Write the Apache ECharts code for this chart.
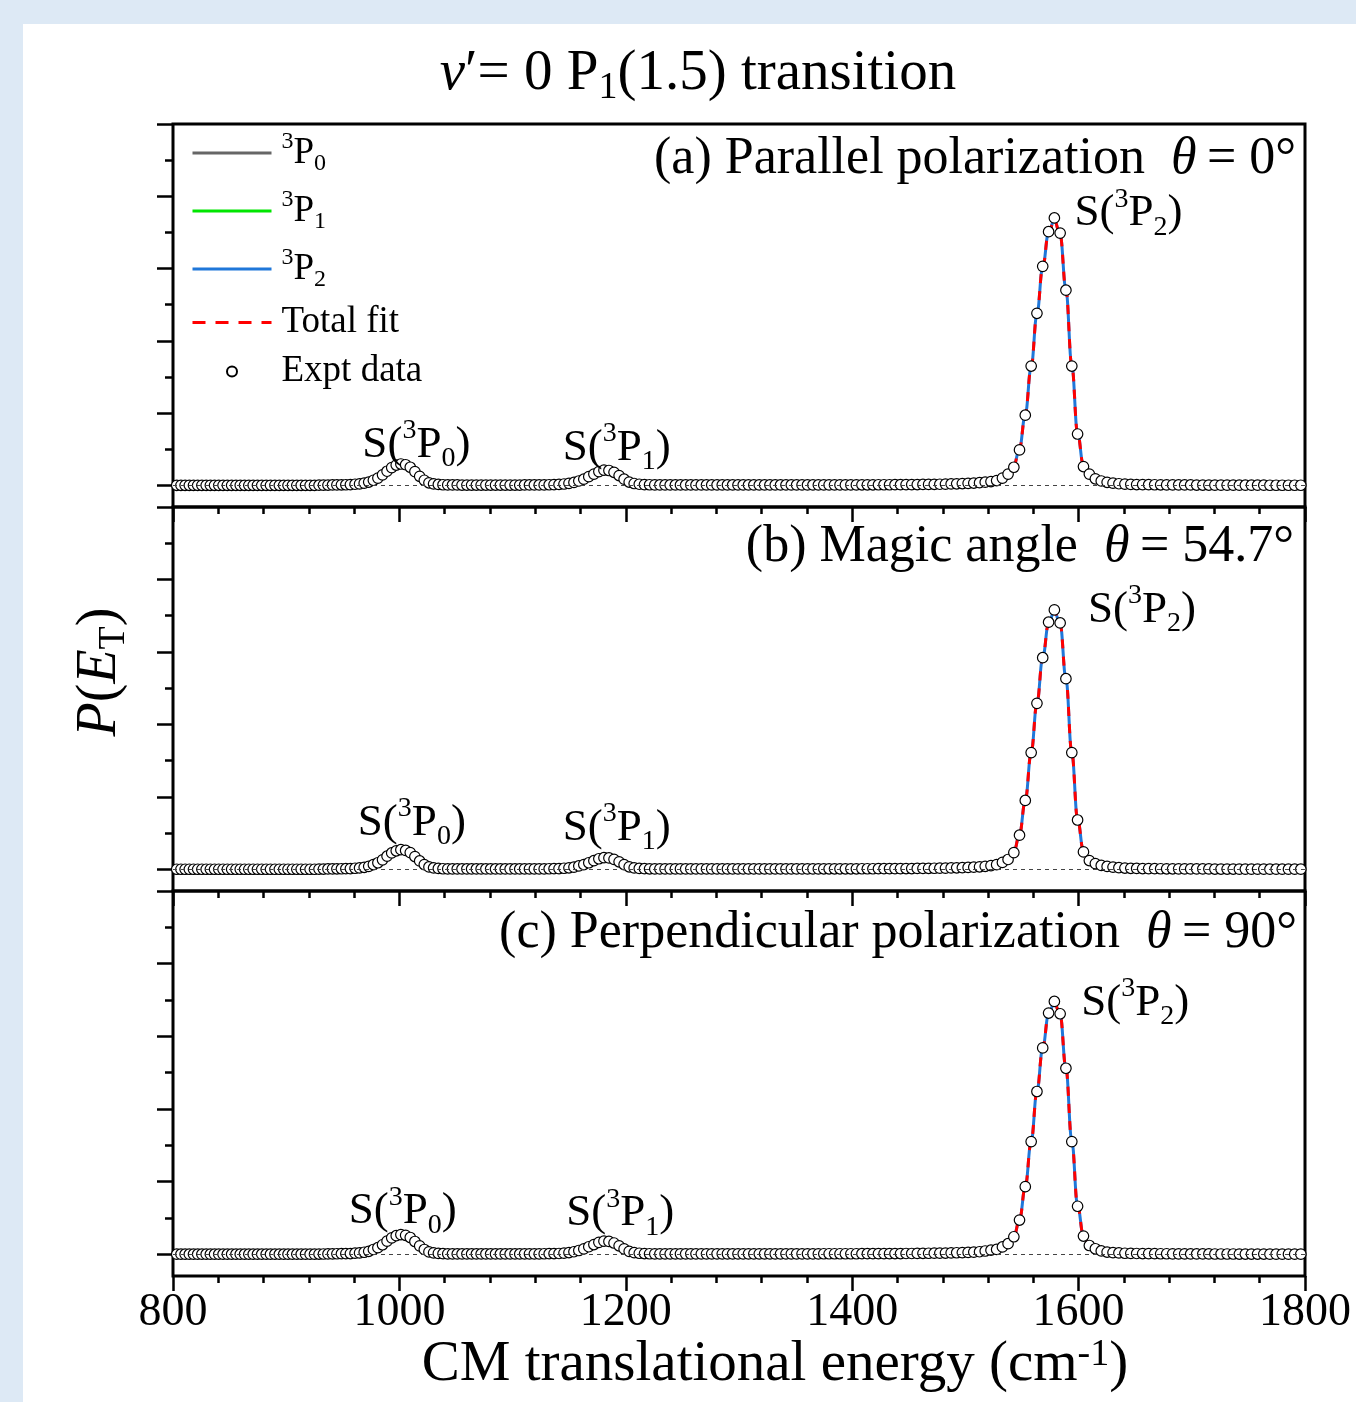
<!DOCTYPE html>
<html>
<head>
<meta charset="utf-8">
<title>P(ET) v'=0 P1(1.5) transition</title>
<script src="https://cdn.jsdelivr.net/npm/echarts@6/dist/echarts.min.js"></script>
<style>
  html, body { margin: 0; padding: 0; background: #dde9f5; }
  #sheet { position: absolute; left: 23px; top: 24px; width: 1333px; height: 1378px; background: #fff; }
  #main { position: absolute; left: 0; top: 0; width: 1356px; height: 1402px; }
</style>
</head>
<body>
<div id="sheet"></div>
<div id="main"></div>
<script>
// CM translational energy of the measured points (cm-1)
var energy = [
  803.3,807.0,810.7,814.4,818.1,821.8,825.5,829.3,833.0,836.7,
  840.4,844.2,848.0,851.8,855.6,859.4,863.2,867.0,870.8,874.6,
  878.4,882.3,886.1,890.0,893.9,897.8,901.6,905.5,909.4,913.2,
  917.1,921.1,925.0,929.0,932.9,936.9,940.9,944.8,948.8,952.7,
  956.7,960.8,964.8,968.9,972.9,977.0,981.0,985.1,989.1,993.2,
  997.2,1001.3,1005.5,1009.6,1013.7,1017.9,1022.0,1026.1,1030.2,1034.4,
  1038.5,1042.7,1046.9,1051.1,1055.3,1059.6,1063.8,1068.0,1072.2,1076.4,
  1080.6,1084.9,1089.2,1093.5,1097.8,1102.1,1106.3,1110.6,1114.9,1119.2,
  1123.5,1127.9,1132.3,1136.6,1141.0,1145.4,1149.8,1154.2,1158.5,1162.9,
  1167.3,1171.8,1176.2,1180.7,1185.1,1189.6,1194.1,1198.5,1203.0,1207.4,
  1211.9,1216.5,1221.0,1225.6,1230.1,1234.7,1239.2,1243.8,1248.3,1252.9,
  1257.4,1262.0,1266.7,1271.3,1275.9,1280.6,1285.2,1289.8,1294.4,1299.1,
  1303.7,1308.4,1313.1,1317.9,1322.6,1327.3,1332.0,1336.7,1341.5,1346.2,
  1350.9,1355.7,1360.5,1365.3,1370.1,1374.9,1379.6,1384.4,1389.2,1394.0,
  1398.8,1403.7,1408.6,1413.4,1418.3,1423.2,1428.1,1433.0,1437.8,1442.7,
  1447.6,1452.6,1457.5,1462.5,1467.5,1472.5,1477.4,1482.4,1487.4,1492.3,
  1497.3,1502.4,1507.4,1512.5,1517.5,1522.6,1527.6,1532.7,1537.7,1542.8,
  1547.8,1552.9,1558.1,1563.2,1568.3,1573.5,1578.6,1583.7,1588.8,1594.0,
  1599.1,1604.3,1609.5,1614.8,1620.0,1625.2,1630.4,1635.6,1640.9,1646.1,
  1651.3,1656.6,1661.9,1667.2,1672.5,1677.8,1683.1,1688.4,1693.7,1699.0,
  1704.3,1709.7,1715.1,1720.4,1725.8,1731.2,1736.6,1742.0,1747.3,1752.7,
  1758.1,1763.6,1769.0,1774.5,1779.9,1785.4,1790.9,1796.3
];

// (a) parallel polarization, theta = 0
var exptA = [
  0,0,0,0,0,0,0,0,0,0,
  0,0,0,0,0,0,0,0,0,0,
  0,0,0,0,0,0,0,0,0,0,
  0,0,0,0.002,0.003,0.004,0.005,0.006,0.007,0.008,
  0.01,0.015,0.02,0.03,0.045,0.07,0.10,0.145,0.195,0.245,
  0.28,0.295,0.285,0.25,0.19,0.125,0.07,0.035,0.02,0.012,
  0.008,0.006,0.005,0.005,0.004,0.004,0.004,0.004,0.004,0.004,
  0.004,0.004,0.004,0.004,0.004,0.004,0.004,0.005,0.005,0.005,
  0.005,0.006,0.008,0.01,0.012,0.018,0.027,0.04,0.06,0.085,
  0.12,0.155,0.19,0.21,0.205,0.18,0.135,0.085,0.045,0.025,
  0.015,0.01,0.008,0.006,0.005,0.005,0.005,0.005,0.005,0.005,
  0.005,0.005,0.005,0.005,0.005,0.005,0.005,0.005,0.005,0.005,
  0.005,0.005,0.005,0.005,0.005,0.005,0.005,0.005,0.005,0.005,
  0.005,0.005,0.005,0.005,0.005,0.006,0.006,0.006,0.006,0.006,
  0.006,0.006,0.007,0.007,0.007,0.008,0.008,0.008,0.009,0.009,
  0.01,0.01,0.011,0.012,0.013,0.014,0.015,0.017,0.019,0.021,
  0.024,0.027,0.031,0.036,0.043,0.052,0.066,0.10,0.155,0.25,
  0.49,0.97,1.65,2.38,3.03,3.51,3.70,3.49,2.70,1.65,
  0.71,0.26,0.155,0.09,0.06,0.042,0.03,0.022,0.017,0.013,
  0.011,0.01,0.009,0.008,0.007,0.006,0.006,0.005,0.005,0.005,
  0.004,0.004,0.004,0.003,0.003,0.003,0.003,0.002,0.002,0.002,
  0.002,0.002,0.001,0.001,0.001,0.001,0.001,0.001
];

// (b) magic angle, theta = 54.7
var exptB = [
  0,0,0,0,0,0,0,0,0,0,
  0,0,0,0,0,0,0,0,0,0,
  0,0,0,0,0,0,0,0,0,0,
  0,0,0,0.002,0.003,0.004,0.005,0.006,0.007,0.008,
  0.009,0.014,0.018,0.027,0.04,0.065,0.09,0.13,0.18,0.225,
  0.255,0.27,0.26,0.23,0.175,0.115,0.065,0.032,0.018,0.011,
  0.007,0.005,0.005,0.004,0.004,0.004,0.004,0.004,0.004,0.004,
  0.004,0.004,0.004,0.004,0.004,0.004,0.004,0.005,0.005,0.005,
  0.005,0.005,0.007,0.008,0.009,0.014,0.02,0.03,0.046,0.065,
  0.09,0.118,0.145,0.16,0.156,0.137,0.103,0.065,0.034,0.019,
  0.011,0.008,0.006,0.005,0.005,0.005,0.005,0.005,0.005,0.005,
  0.005,0.005,0.005,0.005,0.005,0.005,0.005,0.005,0.005,0.005,
  0.005,0.005,0.005,0.005,0.005,0.005,0.005,0.005,0.005,0.005,
  0.005,0.005,0.005,0.005,0.005,0.006,0.006,0.006,0.006,0.006,
  0.006,0.006,0.007,0.007,0.007,0.008,0.008,0.008,0.009,0.009,
  0.01,0.01,0.011,0.012,0.013,0.014,0.015,0.016,0.018,0.02,
  0.022,0.025,0.029,0.034,0.041,0.05,0.064,0.095,0.135,0.23,
  0.47,0.95,1.61,2.29,2.92,3.41,3.58,3.40,2.63,1.61,
  0.68,0.24,0.12,0.078,0.053,0.039,0.03,0.022,0.017,0.013,
  0.011,0.01,0.009,0.008,0.007,0.006,0.006,0.005,0.005,0.005,
  0.004,0.004,0.004,0.003,0.003,0.003,0.003,0.002,0.002,0.002,
  0.002,0.002,0.001,0.001,0.001,0.001,0.001,0.001
];

// (c) perpendicular polarization, theta = 90
var exptC = [
  0,0,0,0,0,0,0,0,0,0,
  0,0,0,0,0,0,0,0,0,0,
  0,0,0,0,0,0,0,0,0,0,
  0,0,0,0.002,0.003,0.004,0.005,0.006,0.007,0.008,
  0.009,0.014,0.018,0.027,0.04,0.065,0.09,0.13,0.18,0.225,
  0.255,0.27,0.26,0.23,0.175,0.115,0.065,0.032,0.018,0.011,
  0.007,0.005,0.005,0.004,0.004,0.004,0.004,0.004,0.004,0.004,
  0.004,0.004,0.004,0.004,0.004,0.004,0.004,0.005,0.005,0.005,
  0.005,0.006,0.007,0.009,0.01,0.015,0.023,0.034,0.051,0.073,
  0.103,0.133,0.163,0.18,0.176,0.154,0.116,0.073,0.039,0.021,
  0.013,0.009,0.006,0.005,0.005,0.005,0.005,0.005,0.005,0.005,
  0.005,0.005,0.005,0.005,0.005,0.005,0.005,0.005,0.005,0.005,
  0.005,0.005,0.005,0.005,0.005,0.005,0.005,0.005,0.005,0.005,
  0.005,0.005,0.005,0.005,0.005,0.006,0.006,0.006,0.006,0.006,
  0.006,0.006,0.007,0.007,0.007,0.008,0.008,0.008,0.009,0.009,
  0.01,0.01,0.011,0.012,0.013,0.014,0.015,0.016,0.018,0.02,
  0.022,0.025,0.029,0.034,0.044,0.055,0.066,0.10,0.145,0.24,
  0.47,0.93,1.55,2.24,2.84,3.32,3.48,3.31,2.56,1.55,
  0.66,0.25,0.12,0.075,0.045,0.03,0.022,0.017,0.013,0.011,
  0.01,0.009,0.008,0.007,0.006,0.006,0.005,0.005,0.005,0.004,
  0.004,0.004,0.004,0.003,0.003,0.003,0.003,0.002,0.002,0.002,
  0.002,0.002,0.001,0.001,0.001,0.001,0.001,0.001
];

// fitted components (energies where each component is drawn)
var fitE0 = [948.8,952.7,956.7,960.8,964.8,968.9,972.9,977.0,981.0,985.1,989.1,993.2,997.2,1001.3,1005.5,1009.6,1013.7,1017.9,1022.0,1026.1,1030.2,1034.4,1038.5,1042.7,1046.9];
var fitE1 = [1123.5,1127.9,1132.3,1136.6,1141.0,1145.4,1149.8,1154.2,1158.5,1162.9,1167.3,1171.8,1176.2,1180.7,1185.1,1189.6,1194.1,1198.5,1203.0,1207.4,1211.9,1216.5,1221.0,1225.6,1230.1];
var fitE2 = [1497.3,1502.4,1507.4,1512.5,1517.5,1522.6,1527.6,1532.7,1537.7,1542.8,1547.8,1552.9,1558.1,1563.2,1568.3,1573.5,1578.6,1583.7,1588.8,1594.0,1599.1,1604.3,1609.5,1614.8,1620.0,1625.2,1630.4,1635.6,1640.9,1646.1,1651.3];

var fit0A = [0.004,0.006,0.009,0.013,0.019,0.028,0.043,0.067,0.098,0.142,0.192,0.24,0.276,0.29,0.28,0.246,0.188,0.124,0.07,0.036,0.018,0.01,0.006,0.004,0.003];
var fit0B = [0.004,0.005,0.008,0.012,0.017,0.026,0.039,0.061,0.09,0.13,0.176,0.22,0.253,0.266,0.256,0.225,0.172,0.113,0.064,0.033,0.016,0.009,0.005,0.004,0.003];
var fit0C = [0.004,0.005,0.008,0.012,0.017,0.026,0.039,0.061,0.09,0.13,0.176,0.22,0.253,0.266,0.256,0.225,0.172,0.113,0.064,0.033,0.016,0.009,0.005,0.004,0.003];

var fit1A = [0.003,0.004,0.006,0.008,0.011,0.017,0.026,0.039,0.058,0.083,0.117,0.152,0.186,0.206,0.202,0.177,0.133,0.084,0.044,0.022,0.012,0.007,0.004,0.003,0.002];
var fit1B = [0.002,0.003,0.005,0.006,0.008,0.013,0.02,0.03,0.044,0.063,0.089,0.116,0.141,0.157,0.154,0.135,0.101,0.064,0.033,0.017,0.009,0.005,0.003,0.002,0.002];
var fit1C = [0.003,0.003,0.005,0.007,0.009,0.015,0.022,0.033,0.05,0.071,0.1,0.13,0.159,0.177,0.173,0.152,0.114,0.072,0.038,0.019,0.01,0.006,0.003,0.003,0.002];

var fit2A = [0.015,0.018,0.022,0.028,0.036,0.048,0.068,0.10,0.16,0.27,0.51,0.98,1.64,2.37,3.02,3.50,3.67,3.47,2.71,1.66,0.72,0.27,0.13,0.075,0.048,0.032,0.022,0.016,0.012,0.009,0.007];
var fit2B = [0.014,0.017,0.021,0.026,0.034,0.045,0.064,0.095,0.14,0.24,0.48,0.95,1.61,2.29,2.92,3.40,3.56,3.39,2.63,1.61,0.69,0.25,0.12,0.072,0.046,0.031,0.021,0.015,0.011,0.008,0.006];
var fit2C = [0.014,0.017,0.021,0.026,0.034,0.045,0.064,0.097,0.145,0.245,0.47,0.93,1.55,2.24,2.84,3.31,3.46,3.30,2.56,1.56,0.67,0.25,0.12,0.07,0.045,0.03,0.02,0.014,0.01,0.008,0.006];

var majorTicks = [0, 1, 2, 3, 4, 5];
var minorTicks = [0.5, 1.5, 2.5, 3.5, 4.5];
var seriesNames = ['3P0', '3P1', '3P2', 'Total fit', 'Expt data'];
var panelTitles = [
  '(a) Parallel polarization  {i|θ}\u2009= 0°',
  '(b) Magic angle  {i|θ}\u2009= 54.7°',
  '(c) Perpendicular polarization  {i|θ}\u2009= 90°'
];

var FONT = "'Liberation Serif', 'Times New Roman', serif";
var chart = echarts.init(document.getElementById('main'));

function pairs(xs, ys) {
  return xs.map(function (x, i) { return [x, ys[i]]; });
}

var supsub = {
  sup: { fontSize: 28, lineHeight: 28, verticalAlign: 'top', fontFamily: FONT, color: '#000' },
  sub: { fontSize: 28, lineHeight: 28, verticalAlign: 'bottom', fontFamily: FONT, color: '#000' },
  m: { fontSize: 45, lineHeight: 56, fontFamily: FONT, color: '#000' }
};

var peakText = {
  p0: '{m|S(}{sup|3}{m|P}{sub|0}{m|)}',
  p1: '{m|S(}{sup|3}{m|P}{sub|1}{m|)}',
  p2: '{m|S(}{sup|3}{m|P}{sub|2}{m|)}'
};

// where each peak label sits, in data units of its panel
var peakAnchors = [
  [['p0', 1015, 0.56], ['p1', 1192, 0.52], ['p2', 1644, 3.76]],
  [['p0', 1011, 0.64], ['p1', 1192, 0.57], ['p2', 1656, 3.58]],
  [['p0', 1003, 0.59], ['p1', 1195, 0.56], ['p2', 1650, 3.46]]
];

var panels = [
  { expt: exptA, f0: fit0A, f1: fit1A, f2: fit2A, top: 124, height: 383 },
  { expt: exptB, f0: fit0B, f1: fit1B, f2: fit2B, top: 507, height: 384 },
  { expt: exptC, f0: fit0C, f1: fit1C, f2: fit2C, top: 891, height: 385 }
];

var grid = [], xAxis = [], yAxis = [], series = [];

panels.forEach(function (p, i) {
  grid.push({ left: 173, right: 51, top: p.top, height: p.height, show: true,
              borderColor: '#000', borderWidth: 3, backgroundColor: 'transparent' });

  xAxis.push({
    gridIndex: i, type: 'value', position: 'bottom', min: 800, max: 1800, interval: 200,
    axisLine: { show: false, onZero: false },
    splitLine: { show: false },
    axisTick: { show: true, inside: false, length: 15, lineStyle: { color: '#000', width: 2.5 } },
    minorTick: { show: true, splitNumber: 5, length: 7, lineStyle: { color: '#000', width: 2.5 } },
    axisLabel: { show: i === 2, fontFamily: FONT, fontSize: 46, color: '#000', margin: 14,
                 formatter: function (v) { return String(v); } }
  });

  yAxis.push({
    gridIndex: i, type: 'value', min: -0.3, max: 5,
    axisLine: { show: false, onZero: false }, splitLine: { show: false }, axisLabel: { show: false },
    axisTick: { show: true, length: 16, customValues: majorTicks, lineStyle: { color: '#000', width: 2.5 } }
  });
  yAxis.push({
    gridIndex: i, type: 'value', min: -0.3, max: 5, position: 'left',
    axisLine: { show: false, onZero: false }, splitLine: { show: false }, axisLabel: { show: false },
    axisTick: { show: true, length: 8, customValues: minorTicks, lineStyle: { color: '#000', width: 2.5 } }
  });

  var common = { xAxisIndex: i, yAxisIndex: 2 * i, type: 'line', symbol: 'none',
                 smooth: 0.4, smoothMonotone: 'x', animation: false };

  series.push(Object.assign({}, common, {
    name: '3P0', data: pairs(fitE0, p.f0), z: 2,
    lineStyle: { color: '#666666', width: 3 }, itemStyle: { color: '#666666' },
    markLine: {
      silent: true, symbol: 'none', animation: false,
      label: { show: false },
      lineStyle: { color: '#444', width: 1, type: [4, 4] },
      data: [{ yAxis: 0 }]
    }
  }));
  series.push(Object.assign({}, common, {
    name: '3P1', data: pairs(fitE1, p.f1), z: 2,
    lineStyle: { color: '#00e600', width: 3 }, itemStyle: { color: '#00e600' }
  }));
  series.push(Object.assign({}, common, {
    name: '3P2', data: pairs(fitE2, p.f2), z: 2,
    lineStyle: { color: '#1f77d9', width: 3 }, itemStyle: { color: '#1f77d9' }
  }));
  series.push(Object.assign({}, common, {
    name: 'Total fit',
    data: pairs(fitE0, p.f0).concat(pairs(fitE1, p.f1), pairs(fitE2, p.f2)), z: 3,
    lineStyle: { color: '#ff0000', width: 3, type: [9, 8] }, itemStyle: { color: '#ff0000' }
  }));
  series.push({
    name: 'Expt data', type: 'scatter', xAxisIndex: i, yAxisIndex: 2 * i, z: 4,
    animation: false, symbol: 'circle', symbolSize: 10.5,
    itemStyle: { color: '#fff', borderColor: '#000', borderWidth: 1.2, opacity: 1 },
    data: pairs(energy, p.expt),
    markPoint: {
      silent: true, animation: false, symbol: 'rect', symbolSize: 1,
      itemStyle: { color: 'rgba(0,0,0,0)' },
      label: {
        show: true, position: 'inside', color: '#000', fontFamily: FONT, fontSize: 45,
        formatter: function (d) { return peakText[d.name]; },
        rich: supsub
      },
      data: peakAnchors[i].map(function (a) { return { name: a[0], coord: [a[1], a[2]] }; })
    }
  });
});

var legendText = {
  '3P0': '{sup|3}{m|P}{sub|0}',
  '3P1': '{sup|3}{m|P}{sub|1}',
  '3P2': '{sup|3}{m|P}{sub|2}',
  'Total fit': '{n|Total fit}',
  'Expt data': '{n|Expt data}'
};

var hideDot = { opacity: 0 };

var option = {
  animation: false,
  backgroundColor: 'transparent',
  grid: grid,
  xAxis: xAxis,
  yAxis: yAxis,
  series: series,
  legend: {
    data: [
      { name: seriesNames[0], itemStyle: hideDot, lineStyle: { width: 3 } },
      { name: seriesNames[1], itemStyle: hideDot, lineStyle: { width: 3 } },
      { name: seriesNames[2], itemStyle: hideDot, lineStyle: { width: 3 } },
      { name: seriesNames[3], itemStyle: hideDot, lineStyle: { width: 3, type: [13, 10] } },
      { name: seriesNames[4] }
    ],
    orient: 'vertical', left: 186, top: 125,
    itemWidth: 79, itemHeight: 10, itemGap: 12,
    selectedMode: false,
    formatter: function (n) { return legendText[n]; },
    textStyle: {
      fontFamily: FONT, fontSize: 37, color: '#000', padding: [0, 0, 0, 5],
      rich: {
        m: { fontSize: 37, lineHeight: 46, fontFamily: FONT, color: '#000' },
        n: { fontSize: 37, lineHeight: 35, fontFamily: FONT, color: '#000' },
        sup: { fontSize: 24, lineHeight: 24, verticalAlign: 'top', fontFamily: FONT, color: '#000' },
        sub: { fontSize: 24, lineHeight: 24, verticalAlign: 'bottom', fontFamily: FONT, color: '#000' }
      }
    }
  },
  graphic: [
    {
      type: 'text', x: 698, y: 74, silent: true,
      style: {
        text: '{i|v}′= 0 P{sub|1}(1.5) transition',
        fontFamily: FONT, fontSize: 57, fill: '#000', align: 'center', verticalAlign: 'middle',
        rich: {
          i: { fontStyle: 'italic', fontSize: 57, lineHeight: 66, fontFamily: FONT },
          sub: { fontSize: 38, lineHeight: 38, verticalAlign: 'bottom', fontFamily: FONT }
        }
      }
    },
    {
      type: 'text', x: 1296, y: 159, silent: true,
      style: { text: panelTitles[0], fontFamily: FONT, fontSize: 52, fill: '#000', align: 'right', verticalAlign: 'middle',
               rich: { i: { fontStyle: 'italic', fontSize: 52, fontFamily: FONT } } }
    },
    {
      type: 'text', x: 1294, y: 547, silent: true,
      style: { text: panelTitles[1], fontFamily: FONT, fontSize: 52, fill: '#000', align: 'right', verticalAlign: 'middle',
               rich: { i: { fontStyle: 'italic', fontSize: 52, fontFamily: FONT } } }
    },
    {
      type: 'text', x: 1297, y: 933, silent: true,
      style: { text: panelTitles[2], fontFamily: FONT, fontSize: 52, fill: '#000', align: 'right', verticalAlign: 'middle',
               rich: { i: { fontStyle: 'italic', fontSize: 52, fontFamily: FONT } } }
    },
    {
      type: 'text', x: 100, y: 672, rotation: Math.PI / 2, silent: true,
      style: {
        text: '{i|P}({i|E}{sub|T})',
        fontFamily: FONT, fontSize: 56, fill: '#000', align: 'center', verticalAlign: 'middle',
        rich: {
          i: { fontStyle: 'italic', fontSize: 56, lineHeight: 66, fontFamily: FONT },
          sub: { fontSize: 38, lineHeight: 38, verticalAlign: 'bottom', fontFamily: FONT }
        }
      }
    },
    {
      type: 'text', x: 775, y: 1365, silent: true,
      style: {
        text: 'CM translational energy (cm{sup|-1})',
        fontFamily: FONT, fontSize: 57, fill: '#000', align: 'center', verticalAlign: 'middle',
        rich: {
          sup: { fontSize: 38, lineHeight: 38, verticalAlign: 'top', fontFamily: FONT }
        }
      }
    }
  ]
};

chart.setOption(option);
</script>
</body>
</html>
